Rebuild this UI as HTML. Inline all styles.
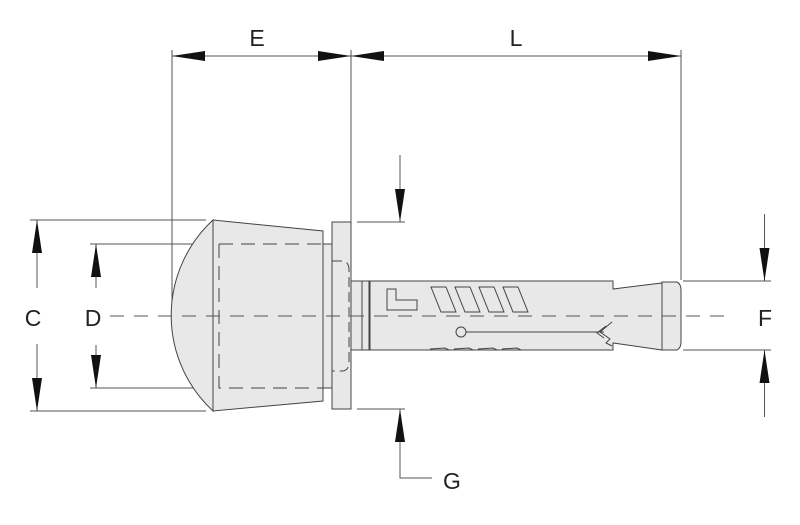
<!DOCTYPE html>
<html><head><meta charset="utf-8"><style>
html,body{margin:0;padding:0;background:#fff}
svg{display:block}
text{font-family:"Liberation Sans",sans-serif;font-size:23px;fill:#222}
</style></head><body>
<svg width="800" height="525" viewBox="0 0 800 525" xmlns="http://www.w3.org/2000/svg">
<g stroke="#555" stroke-width="1" fill="none">
<line x1="172" y1="50" x2="172" y2="316"/>
<line x1="351" y1="50" x2="351" y2="222"/>
<line x1="681" y1="50" x2="681" y2="280"/>
<line x1="30" y1="220" x2="206" y2="220"/>
<line x1="30" y1="411" x2="206" y2="411"/>
<line x1="90" y1="244" x2="213" y2="244"/>
<line x1="90" y1="388" x2="213" y2="388"/>
<line x1="357" y1="222" x2="405" y2="222"/>
<line x1="357" y1="409" x2="405" y2="409"/>
<line x1="683" y1="281" x2="771" y2="281"/>
<line x1="683" y1="350" x2="771" y2="350"/>
<line x1="172" y1="56" x2="681" y2="56"/>
<line x1="37" y1="220" x2="37" y2="288"/><line x1="37" y1="344" x2="37" y2="411"/>
<line x1="96" y1="244" x2="96" y2="288"/><line x1="96" y1="345" x2="96" y2="388"/>
<line x1="764.5" y1="214" x2="764.5" y2="281"/><line x1="764.5" y1="350" x2="764.5" y2="417"/>
<polyline points="400,155 400,222"/><polyline points="400,409 400,478 432,478"/>
</g>
<g stroke="#444" stroke-width="1" fill="#e8e8e8">
<path d="M213,220 A130,130 0 0 0 213,411 Z"/>
<path d="M213,220 L323,231 L323,401 L213,411 Z"/>
<rect x="323" y="244" width="9" height="144"/>
<rect x="332" y="222" width="19" height="187"/>
<rect x="351" y="281" width="19" height="69"/>
<path d="M370,281 L613,281 L613,289 L662,283 L662,350 L613,343 L613,350 L370,350 Z"/>
<path d="M662,282 L677,282 Q681,284 681,290 L681,342 Q681,348 677,350 L662,350 Z"/>
</g>
<g stroke="#444" stroke-width="1" fill="none">
<line x1="362" y1="281" x2="362" y2="350"/><line x1="369" y1="281" x2="369" y2="350"/>
<path d="M219,244 L332,244 M219,244 L219,388 L332,388" stroke-dasharray="14,8"/>
<path d="M332,261 L343,261 Q349,262 349,270 L349,362 Q349,370 343,371 L332,371" stroke-dasharray="10,5"/>
<path d="M387,289 L396,289 L396,300 L417,300 L417,310 L387,310 Z"/>
<path d="M431,287 L446,287 L456,312 L441,312 Z M455,287 L470,287 L480,312 L465,312 Z M479,287 L494,287 L504,312 L489,312 Z M503,287 L518,287 L528,312 L513,312 Z"/>
<path d="M430,349 L445,348 L449,350 M454,349 L469,348 L473,350 M478,349 L493,348 L497,350 M502,349 L517,348 L521,350"/>
<circle cx="461" cy="332" r="5"/>
<line x1="466" y1="332" x2="604" y2="332"/>
<path d="M612,322 L600,332 L610,339 L606,343 L612,346 M606,326 L597,333 L604,338"/>
</g>
<line x1="110" y1="316" x2="726" y2="316" stroke="#555" stroke-width="1" stroke-dasharray="14,10"/>
<g fill="#111">
<polygon points="172,56 205,51 205,61"/><polygon points="351,56 318,51 318,61"/>
<polygon points="351,56 384,51 384,61"/><polygon points="681,56 648,51 648,61"/>
<polygon points="37,220 32,253 42,253"/><polygon points="37,411 32,378 42,378"/>
<polygon points="96,244 91,277 101,277"/><polygon points="96,388 91,355 101,355"/>
<polygon points="764.5,281 759.5,248 769.5,248"/><polygon points="764.5,350 759.5,383 769.5,383"/>
<polygon points="400,222 395,189 405,189"/><polygon points="400,409 395,442 405,442"/>
</g>
<text x="257" y="46" text-anchor="middle">E</text>
<text x="516" y="46" text-anchor="middle">L</text>
<text x="33" y="326" text-anchor="middle">C</text>
<text x="93" y="326" text-anchor="middle">D</text>
<text x="765" y="326" text-anchor="middle">F</text>
<text x="452" y="489" text-anchor="middle">G</text>
</svg>
</body></html>
